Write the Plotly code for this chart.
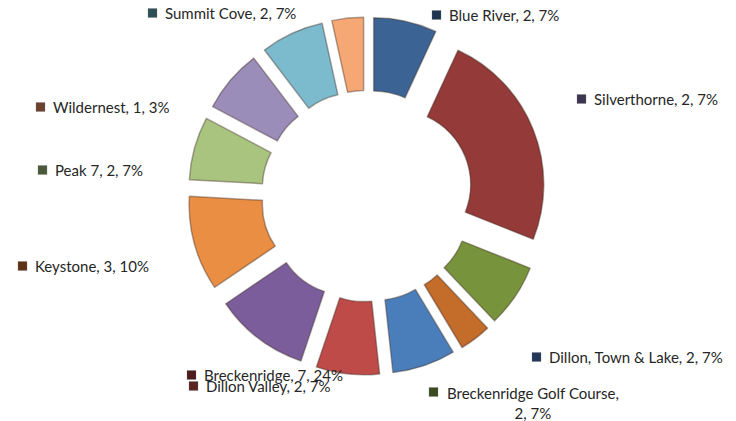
import plotly.graph_objects as go

# ---- data ----
names = ["Blue River", "Breckenridge", "Breckenridge Golf Course", "Copper Mountain",
         "Dillon, Town & Lake", "Dillon Valley", "Frisco", "Keystone", "Peak 7",
         "Silverthorne", "Summit Cove", "Wildernest"]
values = [2, 7, 2, 1, 2, 2, 3, 3, 2, 2, 2, 1]

slice_colors = ["#3B6494", "#943A39", "#77933C", "#C46C2A", "#4A7EBB", "#BE4B48",
                "#7B5D9B", "#E98E43", "#A8C47F", "#9B8DB9", "#7CBACD", "#F5A774"]
marker_colors = ["#1F3450", "#4B1C1B", "#3C4A20", "#6B3A14", "#23375A", "#5A2220",
                 "#3E2F55", "#5E3314", "#4A5A38", "#3C3550", "#2F4F58", "#6B4230"]

# label placement (pixel coords in the 736x421 canvas): name -> (marker_x, y_center)
label_pos = {
    "Summit Cove": (148, 13),
    "Blue River": (432, 15),
    "Silverthorne": (577, 99),
    "Wildernest": (36, 107),
    "Peak 7": (38, 170),
    "Keystone": (18, 266),
    "Breckenridge": (187, 375),
    "Dillon Valley": (189, 386),
    "Dillon, Town & Lake": (532, 357),
    "Breckenridge Golf Course": (429, 392),
}

W, H = 736, 421
total = sum(values)
CX, CY, EXT = 367, 196, 179

fig = go.Figure(go.Pie(
    labels=names,
    values=values,
    hole=0.505,
    sort=False,
    direction="clockwise",
    rotation=0,
    pull=[0.21] * len(values),
    marker=dict(colors=slice_colors, line=dict(color="rgba(60,40,30,0.4)", width=1.5)),
    textinfo="none",
    hoverinfo="label+value+percent",
    showlegend=False,
    domain=dict(x=[(CX - EXT) / W, (CX + EXT) / W],
                y=[(H - CY - EXT) / H, (H - CY + EXT) / H]),
))

annotations = []
shapes = []
FS = 15
for i, n in enumerate(names):
    if n not in label_pos:
        continue
    mx, my = label_pos[n]
    pct = round(values[i] / total * 100)
    sq = 9
    shapes.append(dict(type="rect", xref="paper", yref="paper",
                       x0=mx / W, x1=(mx + sq) / W,
                       y0=1 - (my + sq / 2) / H, y1=1 - (my - sq / 2) / H,
                       fillcolor=marker_colors[i], line=dict(color="rgba(120,120,120,0.6)", width=0.5)))
    if n == "Breckenridge Golf Course":
        txt = f"{n},<br>{values[i]}, {pct}%"
        annotations.append(dict(x=(mx + 16) / W, y=1 - (my - 10) / H, xref="paper", yref="paper",
                                xanchor="left", yanchor="top", align="center", showarrow=False,
                                text=txt, font=dict(size=FS, color="#262626")))
    else:
        txt = f"{n}, {values[i]}, {pct}%"
        annotations.append(dict(x=(mx + 15) / W, y=1 - my / H, xref="paper", yref="paper",
                                xanchor="left", yanchor="middle", showarrow=False,
                                text=txt, font=dict(size=FS, color="#262626")))

fig.update_layout(
    width=W, height=H,
    margin=dict(l=0, r=0, t=0, b=0),
    paper_bgcolor="white",
    plot_bgcolor="white",
    font=dict(family="Lato, Noto Sans, sans-serif", size=FS, color="#262626"),
    annotations=annotations,
    shapes=shapes,
)

fig.write_html("out.html")
